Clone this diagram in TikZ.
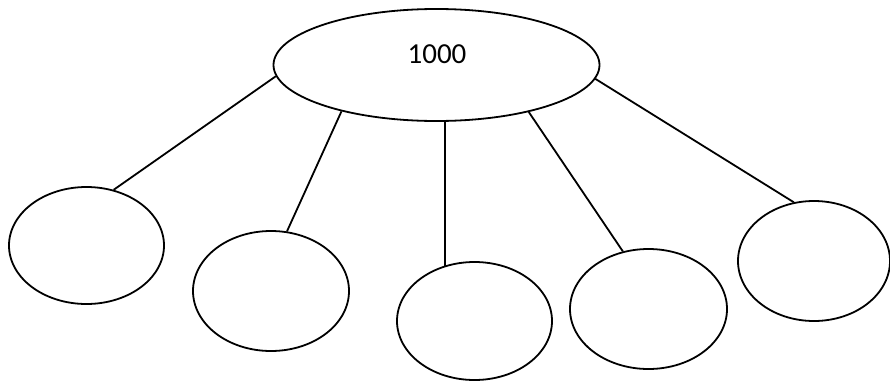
\documentclass[tikz,border=0pt]{standalone}
\usepackage{fontspec}
\setmainfont{Carlito}
\usetikzlibrary{shapes.geometric}
\begin{document}
\begin{tikzpicture}[x=1pt,y=-1pt,
  oval/.style={draw=black, line width=1.8pt, ellipse, inner sep=0pt, fill=white},
  link/.style={draw=black, line width=1.8pt}]
\useasboundingbox (0,0) rectangle (890,380);
\node[oval, minimum width=326pt, minimum height=112pt] (top) at (436.5,65) {};
\node[font=\fontsize{29}{34}\selectfont] (lbl) at (437,54) {1000};
\node[oval, minimum width=155pt, minimum height=117pt] (e1) at (86.5,245.5) {};
\node[oval, minimum width=156pt, minimum height=120pt] (e2) at (271,291) {};
\node[oval, minimum width=155pt, minimum height=118pt] (e3) at (474.5,321) {};
\node[oval, minimum width=157pt, minimum height=120pt] (e4) at (648.5,309) {};
\node[oval, minimum width=152pt, minimum height=120pt] (e5) at (814,261) {};
\coordinate (e3top) at (e3.118.8);
\draw[link] (top.184.6) -- (e1.64.9);
\draw[link] (top.206) -- (e2.75.5);
\draw[link] (e3top |- top.south) -- (e3top);
\draw[link] (top.333.3) -- (e4.114.2);
\draw[link] (top.355.7) -- (e5.109.3);
\end{tikzpicture}
\end{document}
